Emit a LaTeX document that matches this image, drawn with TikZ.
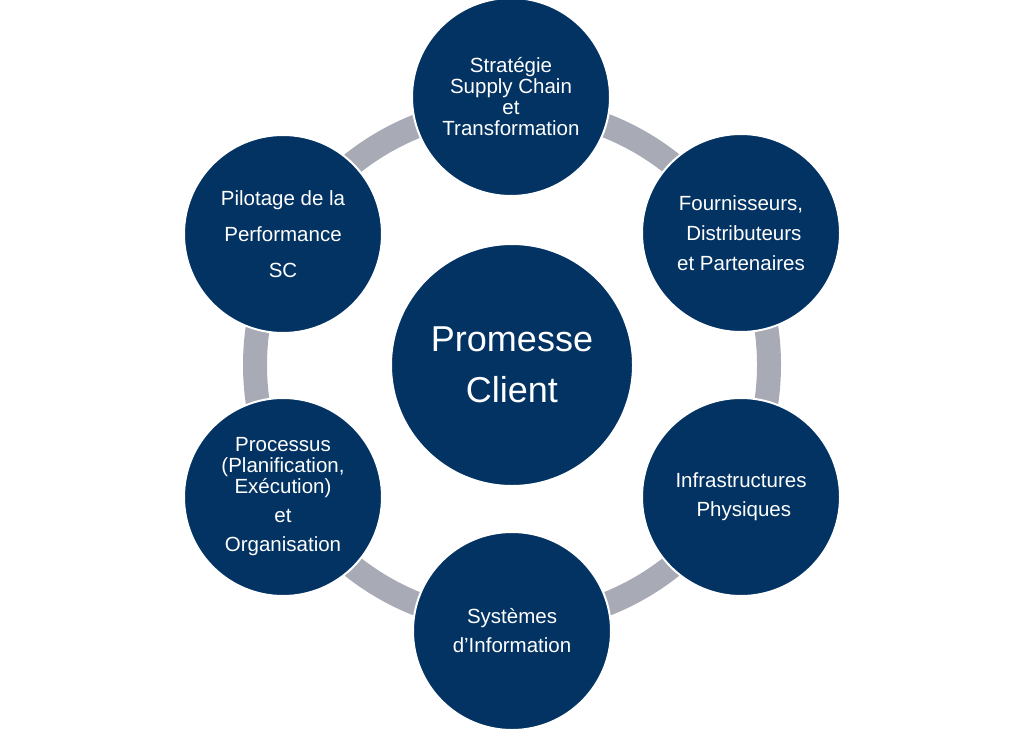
\documentclass[tikz,border=0pt]{standalone}
\usepackage{fontspec}
\setmainfont{Liberation Sans}
\definecolor{navy}{RGB}{3,51,99}
\definecolor{ringgray}{RGB}{168,170,181}
\begin{document}
\begin{tikzpicture}[x=1pt,y=-1pt,
  outer/.style={circle,fill=navy,draw=white,line width=2pt,minimum size=198pt,inner sep=0pt,
    text=white,align=center,font=\fontsize{20.5}{21}\selectfont},
  inner/.style={circle,fill=navy,draw=white,line width=2pt,minimum size=242pt,inner sep=0pt,
    text=white,align=center,font=\fontsize{36}{51}\selectfont},
  ring/.style={draw=ringgray,line width=24pt}]
\useasboundingbox (0,0) rectangle (1024,730);
\coordinate (mid) at (512,365);
\draw[ring] (mid) circle (257pt);
\node[inner] (pc) at (512,365) {Promesse\\Client};
\node[outer] (strat) at (511,97) {Stratégie\\Supply Chain\\et\\Transformation};
\node[outer,font=\fontsize{20.5}{30}\selectfont] (four) at (741,233) {Fournisseurs,\\\ Distributeurs\\et Partenaires};
\node[outer,font=\fontsize{20.5}{29}\selectfont] (infra) at (741,497) {Infrastructures\\\ Physiques};
\node[outer,font=\fontsize{20.5}{29}\selectfont] (sys) at (512,631) {Systèmes\\d’Information};
\node[outer] (proc) at (283,497) {Processus\\(Planification,\\Exécution)\\[8pt]et\\[8pt]Organisation};
\node[outer,font=\fontsize{20.5}{36}\selectfont] (pilot) at (283,234) {Pilotage de la\\Performance\\SC};
\end{tikzpicture}
\end{document}
